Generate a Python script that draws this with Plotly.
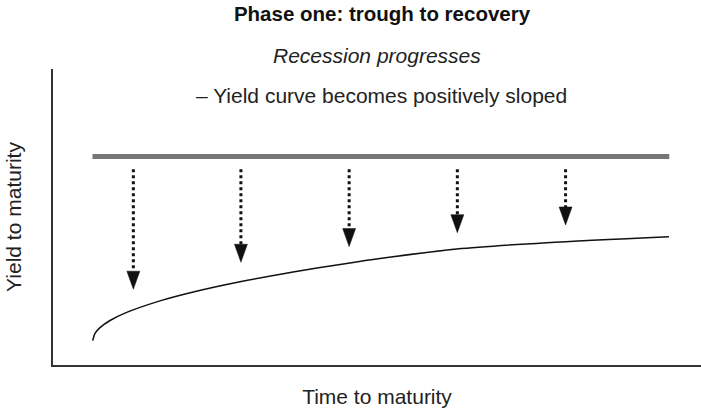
import plotly.graph_objects as go

# flat (initial) yield curve
flat_maturity = [6.1, 95.1]
flat_yield = [70.4, 70.4]

# new, positively sloped yield curve
curve_maturity = [6.13, 6.48, 7.25, 8.8, 11.37, 16.51, 21.65, 28.86, 37.04, 45.32, 50.46, 62.3, 76.19, 95.06]
curve_yield = [8.21, 10.71, 12.64, 15.03, 17.77, 21.66, 24.66, 28.11, 31.39, 34.32, 35.98, 39.19, 41.32, 43.34]

# downward shift arrows
arrow_maturity = [12.4, 29.0, 45.7, 62.4, 79.1]
arrow_from = [66.1, 66.1, 66.1, 66.1, 66.1]
arrow_to = [25.6, 34.7, 40.0, 44.7, 47.3]

FONT = "Liberation Sans, Arial, Helvetica, sans-serif"
HEAD_W = 1.0   # half width of arrow head, x units
HEAD_H = 6.1   # height of arrow head, y units

fig = go.Figure()

fig.add_trace(go.Scatter(
    x=flat_maturity, y=flat_yield, mode="lines",
    line=dict(color="#777777", width=5),
    hoverinfo="skip",
))

fig.add_trace(go.Scatter(
    x=curve_maturity, y=curve_yield, mode="lines",
    line=dict(color="#111111", width=1.5, shape="spline", smoothing=0.8),
    hoverinfo="skip",
))

# dotted shafts and filled heads
shaft_x, shaft_y = [], []
head_x, head_y = [], []
for x, y0, y1 in zip(arrow_maturity, arrow_from, arrow_to):
    shaft_x += [x, x, None]
    shaft_y += [y0, y1 + HEAD_H, None]
    head_x += [x - HEAD_W, x + HEAD_W, x, x - HEAD_W, None]
    head_y += [y1 + HEAD_H, y1 + HEAD_H, y1, y1 + HEAD_H, None]

fig.add_trace(go.Scatter(
    x=shaft_x, y=shaft_y, mode="lines",
    line=dict(color="#111111", width=3, dash="dot"),
    hoverinfo="skip",
))
fig.add_trace(go.Scatter(
    x=head_x, y=head_y, mode="lines", fill="toself",
    fillcolor="#111111", line=dict(color="#111111", width=0.5),
    hoverinfo="skip",
))

fig.add_annotation(
    text="<i>Recession progresses</i>", x=0.5, y=1.0466,
    xref="paper", yref="paper", xanchor="center", yanchor="middle",
    showarrow=False, font=dict(family=FONT, size=21, color="#222222"),
)
fig.add_annotation(
    text="– Yield curve becomes positively sloped", x=0.507, y=0.909,
    xref="paper", yref="paper", xanchor="center", yanchor="middle",
    showarrow=False, font=dict(family=FONT, size=21, color="#222222"),
)

fig.update_layout(
    width=701, height=410,
    margin=dict(l=53, r=0, t=69, b=45),
    paper_bgcolor="white", plot_bgcolor="white",
    showlegend=False,
    title=dict(
        text="<b>Phase one: trough to recovery</b>",
        x=382 / 701, xanchor="center", y=1 - 13.7 / 410, yanchor="middle",
        font=dict(family=FONT, size=20.5, color="#111111"),
    ),
    font=dict(family=FONT, color="#222222"),
)
fig.update_xaxes(
    range=[0, 100], showgrid=False, zeroline=False, showticklabels=False, ticks="",
    showline=True, linecolor="#333333", linewidth=1.5,
    title=dict(text="Time to maturity", standoff=24, font=dict(family=FONT, size=21, color="#222222")),
)
fig.update_yaxes(
    range=[0, 100], showgrid=False, zeroline=False, showticklabels=False, ticks="",
    showline=True, linecolor="#333333", linewidth=1.5,
    title=dict(text="Yield to maturity", standoff=24, font=dict(family=FONT, size=21, color="#222222")),
)

# page body has a default margin; drop it so the figure fills the window
fig.write_html(
    "out.html",
    config={"displayModeBar": False},
    post_script="document.body.style.margin = '0';",
)
